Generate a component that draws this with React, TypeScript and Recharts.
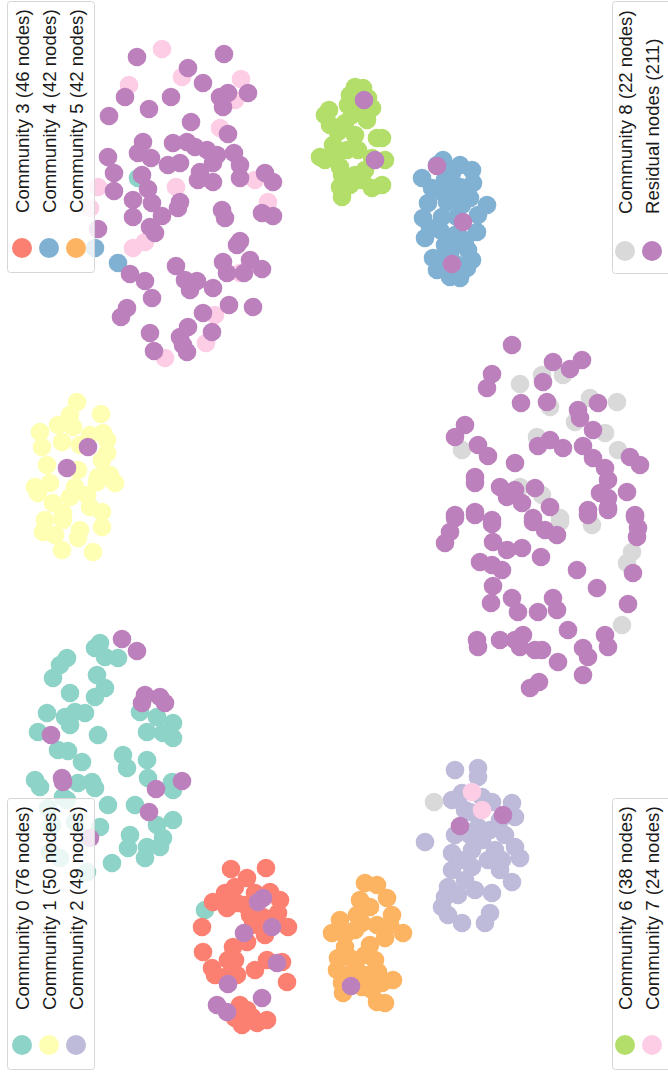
import React from "react";
import { ScatterChart, Scatter, XAxis, YAxis } from "recharts";

type P = [number, number];

const community0: P[] = [
  [100,643],[95,648],[105,657],[118,658],[67,658],[60,665],[53,678],[97,675],[105,688],[95,697],
  [70,693],[47,713],[65,717],[75,712],[85,713],[70,725],[38,732],[98,735],[140,712],[157,717],
  [173,723],[147,732],[163,733],[173,738],[58,750],[68,751],[82,762],[123,755],[127,768],[147,760],
  [35,780],[40,787],[78,783],[92,782],[95,788],[148,778],[172,782],[173,790],[63,797],[108,805],
  [135,805],[173,820],[157,825],[100,827],[130,835],[128,848],[163,838],[160,847],[147,847],[145,858],
  [112,863],[87,872],[48,808],[67,800],[52,825],[75,822],[60,858],[50,852],[138,178],[205,910]
];
const community1: P[] = [
  [77,402],[101,414],[70,415],[40,432],[58,425],[73,427],[62,442],[42,447],[90,435],[103,433],
  [107,440],[80,445],[107,453],[102,460],[47,465],[78,470],[98,477],[110,475],[115,483],[97,482],
  [35,487],[50,483],[38,493],[70,497],[87,495],[75,487],[53,503],[90,507],[102,512],[63,513],
  [45,520],[63,520],[80,530],[102,527],[43,532],[55,535],[78,538],[62,550],[93,552]
];
const community2: P[] = [
  [455,770],[478,768],[478,777],[452,800],[462,793],[482,797],[492,802],[512,803],[425,842],[455,835],
  [478,827],[500,820],[515,817],[452,853],[472,850],[482,840],[515,847],[520,858],[452,870],[472,867],
  [488,860],[502,860],[512,882],[448,887],[475,890],[492,893],[442,907],[445,897],[490,913],[448,915],
  [462,923],[485,923],[465,810],[470,835],[490,830],[505,835],[495,850],[460,860],[465,880],[458,895],
  [500,870],[470,812]
];
const community3: P[] = [
  [231,869],[266,868],[247,878],[235,887],[213,902],[225,893],[227,908],[237,903],[255,893],[270,892],
  [280,900],[250,915],[263,917],[278,913],[202,927],[288,927],[253,925],[247,942],[233,947],[203,952],
  [228,960],[235,960],[267,960],[282,962],[212,968],[255,970],[225,977],[237,975],[287,982],[240,1005],
  [247,1010],[235,1018],[252,1017],[267,1020],[242,1025],[257,1023],[265,935],[245,905],[215,975]
];
const community4: P[] = [
  [443,160],[437,165],[472,170],[422,178],[452,173],[473,183],[460,187],[432,188],[443,193],[428,203],
  [447,202],[470,198],[487,205],[423,218],[442,217],[457,217],[477,232],[455,235],[425,238],[468,250],
  [433,258],[450,255],[437,270],[467,268],[450,277],[460,278],[118,263],[95,248],
  [445,180],[455,195],[462,205],[455,245],[445,245],[440,230],[465,240],[478,215],[430,228],[440,262],
  [458,265],[472,260],[460,165]
];
const community5: P[] = [
  [365,883],[377,885],[387,898],[392,915],[370,907],[357,915],[340,920],[362,923],[377,925],[332,933],
  [403,933],[385,938],[345,947],[370,945],[338,958],[375,960],[337,970],[357,970],[378,972],[342,983],
  [362,987],[382,983],[393,980],[343,993],[377,1002],[385,1003],[355,930],[350,958],[365,955],[390,925],
  [360,900],[350,975],[368,975],[345,935],[372,990]
];
const community6: P[] = [
  [355,87],[363,88],[368,98],[329,110],[348,105],[345,123],[367,120],[355,135],[377,138],[382,138],
  [333,145],[347,150],[325,160],[340,167],[385,160],[372,158],[342,175],[362,180],[372,188],[382,185],
  [340,187],[342,197],[330,125],[338,132],[352,115],[360,112],[358,150],[335,158],[355,175],[365,170],
  [320,157],[350,185],[325,115],[372,108],[350,95]
];
const community7: P[] = [
  [162,49],[129,85],[182,77],[241,79],[235,100],[220,128],[255,180],[176,187],[268,202],[98,187],
  [133,248],[145,242],[240,273],[215,315],[206,343],[165,358],[90,208],[472,792],[482,810]
];
const community8: P[] = [
  [520,384],[542,375],[563,375],[550,407],[590,398],[617,402],[575,422],[605,433],[462,450],[537,437],
  [618,450],[542,495],[520,487],[560,518],[560,522],[592,525],[632,552],[627,563],[622,625],[434,802]
];
const residual: P[] = [
  // upper-left group
  [137,57],[224,54],[188,68],[203,83],[125,97],[171,97],[220,97],[228,93],[223,107],[248,93],
  [149,109],[109,116],[191,122],[228,134],[143,142],[173,143],[187,142],[195,147],[207,150],[217,155],
  [234,153],[138,153],[151,158],[108,157],[168,165],[180,163],[200,172],[213,163],[240,165],[240,178],
  [114,173],[142,175],[198,180],[213,182],[265,173],[273,182],[148,189],[114,191],[133,200],[180,202],
  [178,208],[152,203],[222,210],[225,218],[262,213],[273,216],[133,217],[162,216],[150,227],[155,233],
  [98,229],[240,241],[237,245],[176,266],[130,274],[145,281],[223,262],[227,273],[250,260],[244,273],
  [262,269],[185,280],[197,281],[190,290],[213,288],[152,298],[127,308],[121,317],[203,313],[229,305],
  [253,307],[188,327],[180,337],[183,345],[212,332],[150,333],[154,351],[187,352],
  // on small clusters
  [364,100],[375,160],[437,166],[463,222],[452,264],[88,447],[67,468],
  [122,639],[137,651],[145,695],[142,703],[160,697],[165,703],[51,735],[62,778],[63,782],[182,781],
  [156,789],[149,812],[90,838],
  [258,902],[263,898],[272,927],[244,933],[277,963],[228,984],[262,998],[217,1005],[227,1012],
  [460,826],[503,815],[351,986],
  // right group
  [512,345],[553,362],[582,360],[570,369],[492,374],[487,388],[543,382],[521,403],[547,402],[578,410],
  [580,418],[598,403],[465,425],[455,437],[593,430],[478,445],[488,456],[550,440],[538,446],[563,448],
  [583,446],[593,458],[630,457],[640,465],[515,463],[605,468],[608,480],[475,477],[475,483],[500,487],
  [515,490],[535,488],[507,497],[522,503],[600,493],[608,498],[627,492],[550,507],[588,510],[608,508],
  [455,515],[475,512],[492,520],[533,518],[635,515],[455,518],[475,515],[450,532],[445,543],[492,524],
  [533,522],[545,530],[557,535],[588,515],[608,510],[635,517],[638,528],[637,537],[493,542],[507,550],
  [522,548],[541,557],[480,562],[492,565],[502,570],[577,570],[633,573],[597,588],[493,586],[491,603],
  [512,598],[518,612],[538,612],[553,598],[557,610],[628,604],[568,630],[477,640],[478,647],[500,640],
  [515,640],[523,635],[520,647],[535,650],[542,650],[605,635],[608,647],[583,648],[588,657],[558,662],
  [583,675],[530,688],[539,682]
];

const legendLeftTop = ["Community 3 (46 nodes)", "Community 4 (42 nodes)", "Community 5 (42 nodes)"];
const legendLeftBottom = ["Community 0 (76 nodes)", "Community 1 (50 nodes)", "Community 2 (49 nodes)"];
const legendRightTop = ["Community 8 (22 nodes)", "Residual nodes (211)"];
const legendRightBottom = ["Community 6 (38 nodes)", "Community 7 (24 nodes)"];

const COLORS = {
  c0: "#8dd3c7", c1: "#ffffb3", c2: "#bebada", c3: "#fb8072", c4: "#80b1d3",
  c5: "#fdb462", c6: "#b3de69", c7: "#fccde5", c8: "#d9d9d9", res: "#bc80bd",
};

const toPts = (a: P[]) => a.map(([x, y]) => ({ x, y }));

const series = [
  { name: "c0", data: community0, color: COLORS.c0 },
  { name: "c1", data: community1, color: COLORS.c1 },
  { name: "c2", data: community2, color: COLORS.c2 },
  { name: "c3", data: community3, color: COLORS.c3 },
  { name: "c4", data: community4, color: COLORS.c4 },
  { name: "c5", data: community5, color: COLORS.c5 },
  { name: "c6", data: community6, color: COLORS.c6 },
  { name: "c7", data: community7, color: COLORS.c7 },
  { name: "c8", data: community8, color: COLORS.c8 },
  { name: "res", data: residual, color: COLORS.res },
];

const dot = (color: string) => (props: any) =>
  <circle cx={props.cx} cy={props.cy} r={9.3} fill={color} />;

const FONT = "Helvetica, Arial, 'Liberation Sans', sans-serif";

function LegendBox({ x, y, w, h, labels, colors, colX, circleY, textY }: any) {
  return (
    <g>
      <rect x={x} y={y} width={w} height={h} rx={3} ry={3}
        fill="rgba(255,255,255,0.82)" stroke="#d6d6d6" strokeWidth={1} />
      {labels.map((l: string, i: number) => {
        const cx = colX + i * 27;
        return (
          <g key={l}>
            <circle cx={cx} cy={circleY} r={10} fill={colors[i]} />
            <text x={cx} y={textY} transform={`rotate(-90, ${cx}, ${textY})`}
              dominantBaseline="central" fontFamily={FONT} fontSize={18.6} fill="#1a1a1a">{l}</text>
          </g>
        );
      })}
    </g>
  );
}

export default function App() {
  return (
    <div style={{ position: "absolute", left: 0, top: 0, width: 668, height: 1075, background: "#fff" }}>
      <ScatterChart width={668} height={1075} margin={{ top: 0, right: 0, bottom: 0, left: 0 }}>
        <XAxis type="number" dataKey="x" domain={[0, 668]} hide />
        <YAxis type="number" dataKey="y" domain={[0, 1075]} reversed hide />
        {series.map((s) => (
          <Scatter key={s.name} name={s.name} data={toPts(s.data)} fill={s.color}
            shape={dot(s.color)} isAnimationActive={false} />
        ))}
      </ScatterChart>
      <svg width={668} height={1075} style={{ position: "absolute", left: 0, top: 0, pointerEvents: "none" }}>
        <LegendBox x={7.5} y={1.5} w={87} h={271} labels={legendLeftTop}
          colors={[COLORS.c3, COLORS.c4, COLORS.c5]} colX={22} circleY={248} textY={213} />
        <LegendBox x={7.5} y={798.5} w={87} h={271} labels={legendLeftBottom}
          colors={[COLORS.c0, COLORS.c1, COLORS.c2]} colX={22} circleY={1045} textY={1010} />
        <LegendBox x={612.5} y={1.5} w={70} h={272} labels={legendRightTop}
          colors={[COLORS.c8, COLORS.res]} colX={625} circleY={251} textY={214} />
        <LegendBox x={612.5} y={798.5} w={70} h={271} labels={legendRightBottom}
          colors={[COLORS.c6, COLORS.c7]} colX={625} circleY={1045} textY={1010} />
      </svg>
    </div>
  );
}
